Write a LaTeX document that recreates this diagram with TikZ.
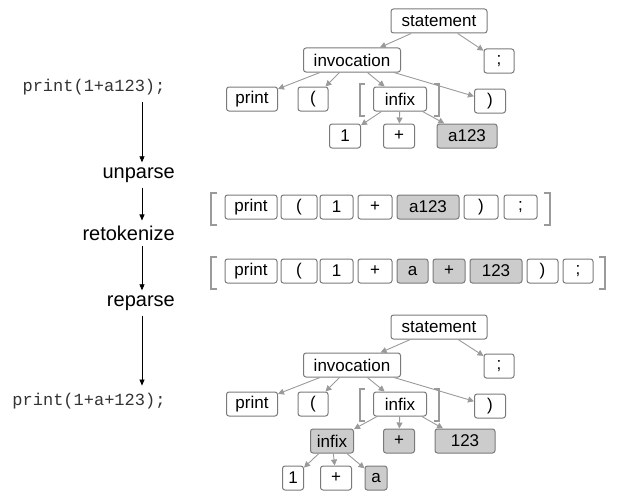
\documentclass[tikz,border=0pt]{standalone}
\usepackage{fontspec}
\setmainfont{Liberation Sans}
\newfontfamily\codefont{Liberation Mono}
\usepackage{tikz}
\usetikzlibrary{arrows.meta}

\definecolor{boxline}{HTML}{7A7A7A}
\definecolor{hotfill}{HTML}{CCCCCC}
\definecolor{edgegray}{HTML}{9A9A9A}
\definecolor{codegray}{HTML}{333333}

\tikzset{
  tok/.style={draw=boxline,fill=white,rounded corners=2.5pt,line width=1pt,
    minimum height=24pt,inner xsep=3pt,inner ysep=0pt,
    font=\fontsize{17}{20}\selectfont,minimum width=#1},
  tok/.default=30pt,
  hot/.style={tok=#1,fill=hotfill},
  hot/.default=30pt,
  edge/.style={draw=edgegray,line width=0.9pt,-{Triangle[length=6pt,width=6pt]}},
  flow/.style={draw=black,line width=0.7pt,-{Triangle[length=6pt,width=5pt]},
    shorten <=4pt,shorten >=4pt},
  brk/.style={draw=edgegray,line width=2.4pt},
  code/.style={font=\codefont\fontsize{17}{20}\selectfont,text=codegray},
  stage/.style={font=\fontsize{20}{24}\selectfont,anchor=east,inner sep=1pt}
}

\begin{document}
\begin{tikzpicture}[x=1pt,y=-1pt]
  \useasboundingbox (0,0) rectangle (618,495);
  %
  % Left column: the pipeline
  \coordinate (spine) at (142,0);
  \node[code] (src) at (94,87) {print(1+a123);};
  \node[stage] (unparse) at (176,175) {unparse};
  \node[stage] (retok) at (176,233) {retokenize};
  \node[stage] (reparse) at (176,303) {reparse};
  \node[code] (dst) at (89,401) {print(1+a+123);};
  \draw[flow] (src.south -| spine) -- (unparse.north -| spine);
  \draw[flow] (unparse.south -| spine) -- (retok.north -| spine);
  \draw[flow] (retok.south -| spine) -- (reparse.north -| spine);
  \draw[flow] (reparse.south -| spine) -- (dst.north -| spine);
  %
  % Top tree
  \node[tok=96pt] (st1) at (439,21) {statement};
  \node[tok=97pt] (inv1) at (352,60) {invocation};
  \node[tok=30pt] (semi1) at (499,61) {;};
  \node[tok=51pt] (pr1) at (252,99) {print};
  \node[tok=30pt] (lp1) at (313,99) {(};
  \node[tok=53pt] (inf1) at (400,99) {infix};
  \node[tok=31pt] (rp1) at (490,101) {)};
  \node[tok=31pt] (one1) at (345,136) {1};
  \node[tok=31pt] (plus1) at (399,136) {+};
  \node[hot=60pt] (var1) at (467,136) {a123};
  \draw[brk] (365,84) -- (360,84) -- (360,116) -- (365,116);
  \draw[brk] (434,84) -- (439,84) -- (439,116) -- (434,116);
  \draw[edge] (st1) -- (inv1);
  \draw[edge] (st1) -- (semi1);
  \foreach \kid in {pr1,lp1,inf1,rp1}
    \draw[edge] (inv1) -- (\kid);
  \foreach \kid in {one1,plus1,var1}
    \draw[edge] (inf1) -- (\kid);
  %
  % Token list after unparse
  \draw[brk] (217,193) -- (211,193) -- (211,225) -- (217,225);
  \node[tok=52pt] (ta1) at (251,207) {print};
  \node[tok=36pt] (ta2) at (299,207) {(};
  \node[tok=33pt] (ta3) at (336.5,207) {1};
  \node[tok=34pt] (ta4) at (375,207) {+};
  \node[hot=62pt] (ta5) at (428,207) {a123};
  \node[tok=34pt] (ta6) at (481,207) {)};
  \node[tok=33pt] (ta7) at (520.5,207) {;};
  \draw[brk] (544,193) -- (550,193) -- (550,225) -- (544,225);
  %
  % Token list after retokenize
  \draw[brk] (217,257) -- (211,257) -- (211,289) -- (217,289);
  \node[tok=52pt] (tb1) at (251,271) {print};
  \node[tok=36pt] (tb2) at (299,271) {(};
  \node[tok=33pt] (tb3) at (336.5,271) {1};
  \node[tok=34pt] (tb4) at (375,271) {+};
  \node[hot=31pt] (tb5) at (412.5,271) {a};
  \node[hot=32pt] (tb6) at (449,271) {+};
  \node[hot=52pt] (tb7) at (496,271) {123};
  \node[tok=31pt] (tb8) at (542.5,271) {)};
  \node[tok=30pt] (tb9) at (578,271) {;};
  \draw[brk] (599,257) -- (605,257) -- (605,289) -- (599,289);
  %
  % Bottom tree
  \node[tok=96pt] (st2) at (439,327) {statement};
  \node[tok=97pt] (inv2) at (352,365) {invocation};
  \node[tok=30pt] (semi2) at (499,366) {;};
  \node[tok=51pt] (pr2) at (252,404) {print};
  \node[tok=30pt] (lp2) at (313,404) {(};
  \node[tok=53pt] (inf2) at (400,404) {infix};
  \node[tok=31pt] (rp2) at (490,406) {)};
  \node[hot=43pt] (inf3) at (332,441) {infix};
  \node[hot=31pt] (plus2) at (399,441) {+};
  \node[hot=60pt] (num2) at (465,441) {123};
  \node[tok=21pt] (one2) at (293,478) {1};
  \node[tok=31pt] (plus3) at (336,478) {+};
  \node[hot=22pt] (var2) at (376,478) {a};
  \draw[brk] (365,389) -- (360,389) -- (360,421) -- (365,421);
  \draw[brk] (434,389) -- (439,389) -- (439,421) -- (434,421);
  \draw[edge] (st2) -- (inv2);
  \draw[edge] (st2) -- (semi2);
  \foreach \kid in {pr2,lp2,inf2,rp2}
    \draw[edge] (inv2) -- (\kid);
  \foreach \kid in {inf3,plus2,num2}
    \draw[edge] (inf2) -- (\kid);
  \foreach \kid in {one2,plus3,var2}
    \draw[edge] (inf3) -- (\kid);
\end{tikzpicture}
\end{document}
